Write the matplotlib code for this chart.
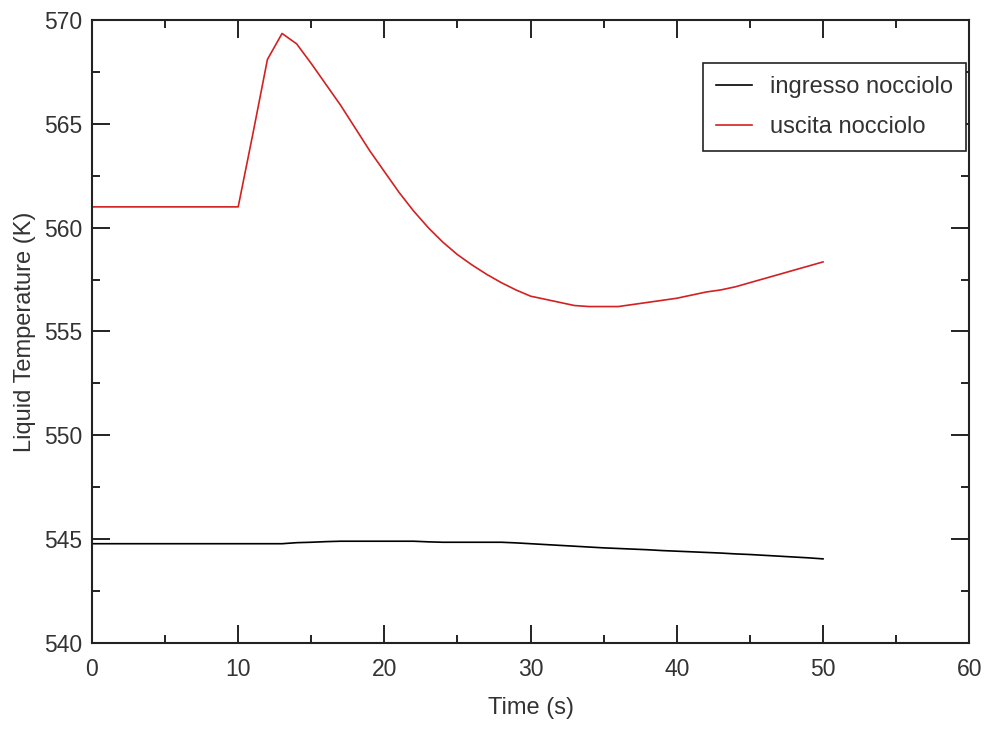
import matplotlib
matplotlib.use("Agg")
import matplotlib.pyplot as plt
from matplotlib.ticker import MultipleLocator

plt.rcParams['font.family'] = ['Liberation Sans', 'DejaVu Sans']

time_s = list(range(0, 51))

uscita = [561.0, 561.0, 561.0, 561.0, 561.0, 561.0, 561.0, 561.0, 561.0, 561.0,
          561.0, 564.5, 568.1, 569.35, 568.85, 567.9, 566.9, 565.9, 564.8, 563.7,
          562.7, 561.7, 560.8, 560.0, 559.3, 558.7, 558.2, 557.75, 557.35, 557.0,
          556.7, 556.55, 556.4, 556.25, 556.2, 556.2, 556.2, 556.3, 556.4, 556.5,
          556.6, 556.75, 556.9, 557.0, 557.15, 557.35, 557.55, 557.75, 557.95, 558.15,
          558.35]

ingresso = [544.78] * 14 + [544.83, 544.85, 544.88, 544.9, 544.9, 544.9, 544.9, 544.9,
            544.9, 544.87, 544.85, 544.85, 544.85, 544.85, 544.85, 544.82, 544.78,
            544.74, 544.7, 544.66, 544.62, 544.58, 544.55, 544.52, 544.49, 544.45,
            544.42, 544.39, 544.36, 544.33, 544.29, 544.26, 544.22, 544.18, 544.14,
            544.1, 544.05]

labels = ["ingresso nocciolo", "uscita nocciolo"]
xlabel = "Time (s)"
ylabel = "Liquid Temperature (K)"

fig = plt.figure(figsize=(9.89, 7.29), dpi=100)
ax = fig.add_axes([0.093, 0.118, 0.887, 0.8546])

ax.plot(time_s, ingresso, color="black", lw=1.2, label=labels[0])
ax.plot(time_s, uscita, color="#d42020", lw=1.2, label=labels[1])

ax.set_xlim(0, 60)
ax.set_ylim(540, 570)
ax.xaxis.set_major_locator(MultipleLocator(10))
ax.xaxis.set_minor_locator(MultipleLocator(5))
ax.yaxis.set_major_locator(MultipleLocator(5))
ax.yaxis.set_minor_locator(MultipleLocator(2.5))

txtc = "#333333"
ax.tick_params(which="both", direction="in", top=True, right=True,
               labelsize=16.5, labelcolor=txtc, width=1.4, color="#222222")
ax.tick_params(which="major", length=13)
ax.tick_params(which="minor", length=6)
ax.tick_params(axis="y", pad=7)
ax.tick_params(axis="x", pad=11)
for s in ax.spines.values():
    s.set_linewidth(1.5)
    s.set_color("#222222")

ax.set_xlabel(xlabel, fontsize=17, color=txtc, labelpad=11)
ax.set_ylabel(ylabel, fontsize=17, color=txtc, labelpad=6)

leg = ax.legend(loc="upper right", bbox_to_anchor=(0.9965, 0.9305), fontsize=17,
                frameon=True, fancybox=False, framealpha=1, borderpad=0.55,
                handlelength=1.55, handletextpad=0.75, labelspacing=0.75,
                borderaxespad=0)
leg.get_frame().set_edgecolor("#222222")
leg.get_frame().set_linewidth(1.2)
for t in leg.get_texts():
    t.set_color(txtc)

fig.savefig("out.png", dpi=100)
